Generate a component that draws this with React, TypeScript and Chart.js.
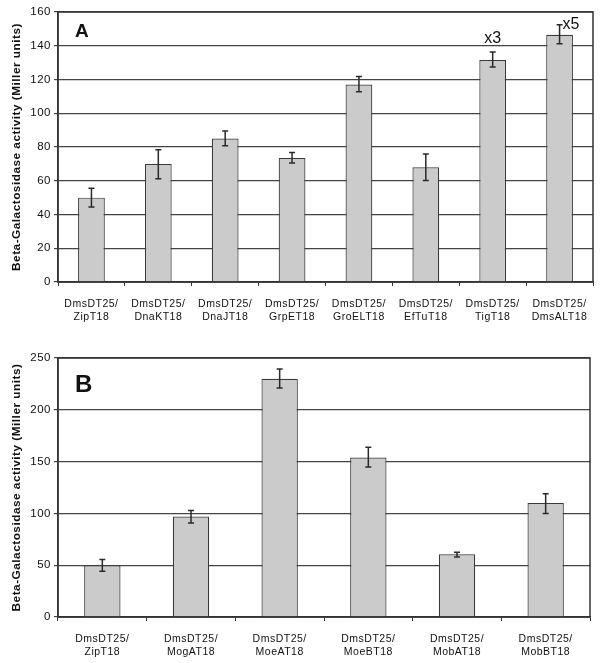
import React, { useEffect, useRef } from "react";
import { Chart, registerables } from "chart.js";

Chart.register(...registerables);

const categoriesA = [
  ["DmsDT25/", "ZipT18"],
  ["DmsDT25/", "DnaKT18"],
  ["DmsDT25/", "DnaJT18"],
  ["DmsDT25/", "GrpET18"],
  ["DmsDT25/", "GroELT18"],
  ["DmsDT25/", "EfTuT18"],
  ["DmsDT25/", "TigT18"],
  ["DmsDT25/", "DmsALT18"],
];
const valuesA = [50, 70, 85, 73.5, 117, 68, 131.5, 146.5];
const errLowA = [44.4, 61.2, 80.8, 70.5, 112.8, 60.2, 127.4, 141.2];
const errHighA = [55.5, 78.4, 89.5, 76.8, 121.8, 75.9, 136.3, 152.5];
const notesA = ["", "", "", "", "", "", "x3", "x5"];
const ticksA = [0, 20, 40, 60, 80, 100, 120, 140, 160];

const categoriesB = [
  ["DmsDT25/", "ZipT18"],
  ["DmsDT25/", "MogAT18"],
  ["DmsDT25/", "MoeAT18"],
  ["DmsDT25/", "MoeBT18"],
  ["DmsDT25/", "MobAT18"],
  ["DmsDT25/", "MobBT18"],
];
const valuesB = [50, 97, 230, 154, 60.5, 110];
const errLowB = [44.2, 90.7, 221, 144.8, 58, 100];
const errHighB = [55.5, 102.9, 239.3, 163.9, 62.6, 119];
const notesB = ["", "", "", "", "", ""];
const ticksB = [0, 50, 100, 150, 200, 250];

const Y_TITLE = "Beta-Galactosidase activity (Miller units)";
const FONT = "'Liberation Sans', Arial, sans-serif";

function makeConfig(
  cats: string[][],
  vals: number[],
  lo: number[],
  hi: number[],
  notes: string[],
  ticks: number[],
  panel: string,
  panelSize: number,
  xHeight: number,
  padTop: number,
  padRight: number,
  barPct: number
): any {
  const max = ticks[ticks.length - 1];
  const spacing = {
    id: "spacing" + panel,
    beforeDraw(chart: any) {
      chart.ctx.letterSpacing = "0.5px";
    },
    beforeDatasetsDraw(chart: any) {
      chart.ctx.letterSpacing = "0px";
    },
  };
  const overlay = {
    id: "overlay" + panel,
    afterDatasetsDraw(chart: any) {
      const ctx = chart.ctx;
      const y = chart.scales.y;
      const x = chart.scales.x;
      const a = chart.chartArea;
      ctx.save();
      ctx.letterSpacing = "0px";
      // error bars
      ctx.strokeStyle = "#2a2a2a";
      ctx.lineWidth = 1.5;
      for (let i = 0; i < vals.length; i++) {
        const px = x.getPixelForValue(i);
        const y1 = y.getPixelForValue(lo[i]);
        const y2 = y.getPixelForValue(hi[i]);
        ctx.beginPath();
        ctx.moveTo(px, y1);
        ctx.lineTo(px, y2);
        ctx.moveTo(px - 3, y1);
        ctx.lineTo(px + 3, y1);
        ctx.moveTo(px - 3, y2);
        ctx.lineTo(px + 3, y2);
        ctx.stroke();
      }
      // frame
      ctx.strokeStyle = "#333";
      ctx.lineWidth = 1.5;
      ctx.strokeRect(a.left, a.top, a.right - a.left, a.bottom - a.top);
      // notes
      ctx.fillStyle = "#111";
      ctx.font = "16px " + FONT;
      ctx.textBaseline = "alphabetic";
      for (let i = 0; i < notes.length; i++) {
        if (!notes[i]) continue;
        const px = x.getPixelForValue(i);
        const py = y.getPixelForValue(hi[i]);
        if (i === notes.length - 1) {
          ctx.textAlign = "left";
          ctx.fillText(notes[i], px + 3, py + 4);
        } else {
          ctx.textAlign = "center";
          ctx.fillText(notes[i], px, py - 9);
        }
      }
      // panel letter
      ctx.font = "bold " + panelSize + "px " + FONT;
      ctx.textAlign = "left";
      ctx.textBaseline = "alphabetic";
      ctx.fillText(panel, a.left + 17, a.top + (panel === "A" ? 25 : 34));
      ctx.restore();
    },
  };
  return {
    type: "bar",
    data: {
      labels: cats,
      datasets: [
        {
          data: vals,
          backgroundColor: "#cbcbcb",
          borderColor: "#3a3a3a",
          borderWidth: 1.2,
          barPercentage: barPct,
          categoryPercentage: 1,
        },
      ],
    },
    options: {
      responsive: false,
      animation: false,
      layout: { padding: { top: padTop, right: padRight, left: 0, bottom: 0 } },
      plugins: { legend: { display: false }, tooltip: { enabled: false } },
      scales: {
        x: {
          offset: true,
          grid: {
            display: true,
            offset: true,
            drawOnChartArea: false,
            drawTicks: true,
            tickLength: 4,
            color: "#333",
          },
          border: { display: true, color: "#333", width: 1.5 },
          ticks: {
            color: "#111",
            font: { family: FONT, size: 10.5 },
            padding: 12,
            maxRotation: 0,
            autoSkip: false,
          },
          afterFit: (s: any) => {
            s.height = xHeight;
          },
        },
        y: {
          min: 0,
          max: max,
          afterBuildTicks: (s: any) => {
            s.ticks = ticks.map((v) => ({ value: v }));
          },
          grid: {
            color: "#444",
            lineWidth: 1.2,
            tickLength: 4,
          },
          border: { display: true, color: "#333", width: 1.5 },
          ticks: {
            color: "#111",
            font: { family: FONT, size: 11.5 },
            padding: 3,
          },
          title: {
            display: true,
            text: Y_TITLE,
            color: "#111",
            font: { family: FONT, size: 11.8, weight: "bold" },
            padding: { top: 10, bottom: 0 },
          },
          afterFit: (s: any) => {
            s.width = 58;
          },
        },
      },
    },
    plugins: [spacing, overlay],
  };
}

function ChartBox(props: { config: any; top: number; height: number }) {
  const ref = useRef<HTMLCanvasElement | null>(null);
  useEffect(() => {
    if (!ref.current) return;
    const c = new Chart(ref.current, props.config);
    return () => c.destroy();
  }, []);
  return (
    <div style={{ position: "absolute", left: 0, top: props.top, width: 601, height: props.height }}>
      <canvas ref={ref} width={601} height={props.height} style={{ display: "block" }} />
    </div>
  );
}

export default function App() {
  const cfgA = makeConfig(categoriesA, valuesA, errLowA, errHighA, notesA, ticksA, "A", 19, 48, 12, 8, 0.4);
  const cfgB = makeConfig(categoriesB, valuesB, errLowB, errHighB, notesB, ticksB, "B", 24, 46, 18, 11, 0.41);
  return (
    <div style={{ position: "absolute", left: 0, top: 0, width: 601, height: 663, background: "#fff" }}>
      <ChartBox config={cfgA} top={0} height={330} />
      <ChartBox config={cfgB} top={340} height={323} />
    </div>
  );
}
